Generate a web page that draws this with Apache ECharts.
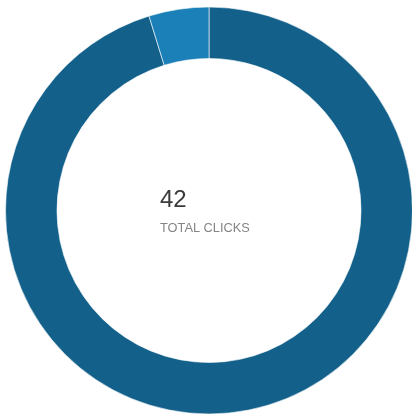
<!DOCTYPE html>
<html>
<head>
<meta charset="utf-8">
<script src="https://cdn.jsdelivr.net/npm/echarts@6/dist/echarts.min.js"></script>
<style>
  html, body { margin: 0; padding: 0; background: #fff; }
  #chart { width: 412px; height: 419px; }
</style>
</head>
<body>
<div id="chart"></div>
<script>
  // slice names and click counts
  const sliceNames = ['Other', 'Direct'];
  const sliceValues = [40, 2];
  const sliceColors = ['#13618b', '#1a80b7'];
  const totalLabel = 'TOTAL CLICKS';

  const total = sliceValues.reduce((a, b) => a + b, 0);
  const chart = echarts.init(document.getElementById('chart'));

  const option = {
    animation: false,
    graphic: [
      {
        type: 'text',
        left: 160,
        top: 188,
        style: { text: String(total), font: '400 24px "Liberation Sans", Arial, sans-serif', fill: '#3a3a3a' }
      },
      {
        type: 'text',
        left: 160,
        top: 222,
        style: { text: totalLabel, font: '400 12.8px "Liberation Sans", Arial, sans-serif', fill: '#858585' }
      }
    ],
    series: [
      {
        type: 'pie',
        center: [209, 210.5],
        radius: [152, 203.5],
        startAngle: 90,
        clockwise: true,
        label: { show: false },
        labelLine: { show: false },
        itemStyle: { borderColor: '#fff', borderWidth: 0.6 },
        data: sliceNames.map((n, i) => ({
          name: n,
          value: sliceValues[i],
          itemStyle: { color: sliceColors[i] }
        }))
      }
    ]
  };
  chart.setOption(option);
</script>
</body>
</html>
